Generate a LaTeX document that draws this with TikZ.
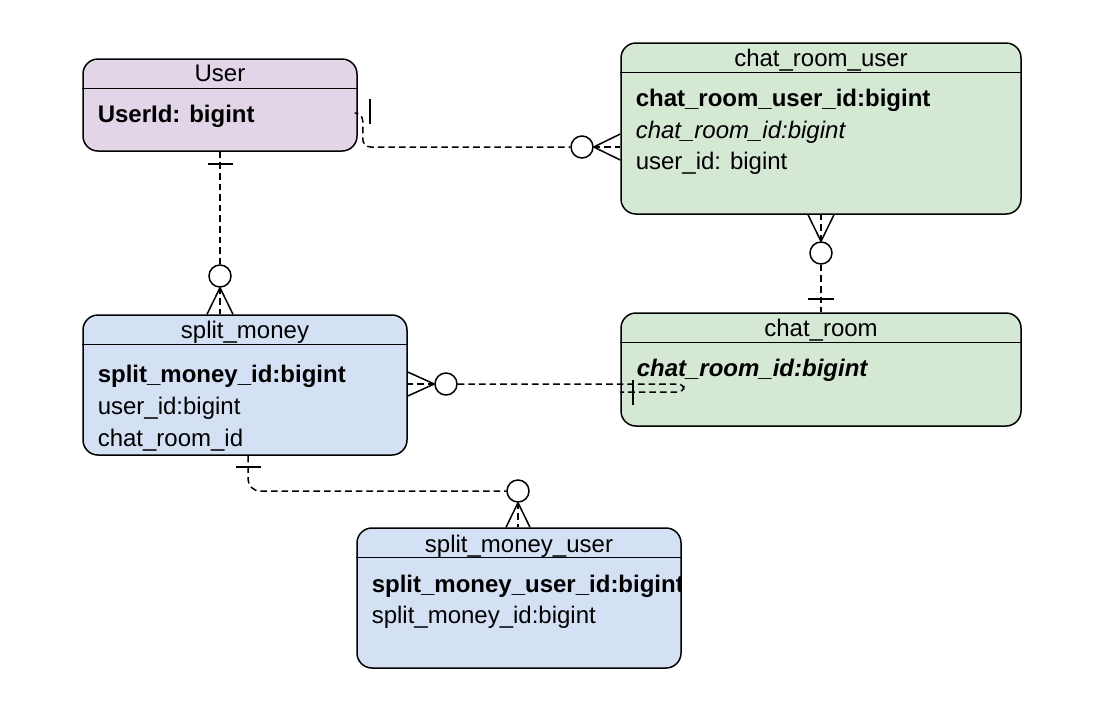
\documentclass[tikz,border=0pt]{standalone}
\usepackage{fontspec}
\setmainfont{Liberation Sans}
\usetikzlibrary{positioning}

\definecolor{userfill}{HTML}{E1D5E7}
\definecolor{chatfill}{HTML}{D5E8D4}
\definecolor{splitfill}{HTML}{D4E1F5}

\begin{document}
\begin{tikzpicture}[x=0.5pt, y=-0.5pt, line width=0.75pt,
    font=\fontsize{12}{14}\selectfont,
    entity/.style={draw, rectangle, rounded corners=7.5pt, inner sep=0},
    title/.style={anchor=base, inner sep=0},
    field/.style={anchor=base west, inner sep=0},
    rel/.style={dash pattern=on 3.3pt off 2pt},
    zero/.style={draw, circle, fill=white, minimum size=11pt, inner sep=0}]
    \useasboundingbox (0,0) rectangle (1104,708);

    % entities
    \node[entity, fill=userfill, minimum width=137pt, minimum height=46pt] (user) at (220,105) {};
    \node[entity, fill=chatfill, minimum width=200pt, minimum height=85.5pt] (chat_room_user) at (821,128.5) {};
    \node[entity, fill=chatfill, minimum width=200pt, minimum height=56.5pt] (chat_room) at (821,369.5) {};
    \node[entity, fill=splitfill, minimum width=162pt, minimum height=70pt] (split_money) at (245,385) {};
    \node[entity, fill=splitfill, minimum width=162pt, minimum height=70pt] (split_money_user) at (519,598) {};

    \foreach \e in {user, chat_room_user, chat_room, split_money, split_money_user}
        \draw ([yshift=-15pt]\e.north west) -- ([yshift=-15pt]\e.north east);

    % titles and fields
    \node[title] (user_t) at (220,81) {User};
    \node[field] (user_1) at (97,122) {\textbf{UserId: bigint}};

    \node[title] (chat_room_user_t) at (821,66) {chat\_room\_user};
    \node[field] (chat_room_user_1) at (635,106) {\textbf{chat\_room\_user\_id:bigint}};
    \node[field] (chat_room_user_2) at (635,138) {\textit{chat\_room\_id:bigint}};
    \node[field] (chat_room_user_3) at (635,169) {user\_id: bigint};

    \node[title] (chat_room_t) at (821,336) {chat\_room};
    \node[field] (chat_room_1) at (636,376) {\textbf{\textit{chat\_room\_id:bigint}}};

    \node[title] (split_money_t) at (245,338) {split\_money};
    \node[field] (split_money_1) at (97,382) {\textbf{split\_money\_id:bigint}};
    \node[field] (split_money_2) at (97,414) {user\_id:bigint};
    \node[field] (split_money_3) at (97,446) {chat\_room\_id};

    \node[title] (split_money_user_t) at (519,552) {split\_money\_user};
    \begin{scope}
        \clip (357,528) rectangle (681,668);
        \node[field] (split_money_user_1) at (371,592) {\textbf{split\_money\_user\_id:bigint}};
    \end{scope}
    \node[field] (split_money_user_2) at (371,623) {split\_money\_id:bigint};

    % User -- chat_room_user
    \node[zero] (c1) at (582,147) {};
    \coordinate (f1) at (chat_room_user.west |- c1);
    \draw[rel, rounded corners=4pt] ([yshift=-4pt]user.east) -- ++(5,0) |- (c1.west);
    \draw (370,99) -- (370,124);
    \draw (c1.east) -- ([yshift=6.5pt]f1)
          (c1.east) -- ([yshift=-6.5pt]f1);
    \draw[rel] (c1.east) -- (f1);

    % User -- split_money
    \node[zero] (c2) at (220,276) {};
    \coordinate (f2) at (split_money.north -| c2);
    \draw[rel] (user.south) -- (c2.north);
    \draw (208,164) -- (233,164);
    \draw (c2.south) -- ([xshift=-6.5pt]f2)
          (c2.south) -- ([xshift=6.5pt]f2);
    \draw[rel] (c2.south) -- (f2);

    % chat_room_user -- chat_room
    \node[zero] (c3) at (821,253) {};
    \draw (c3.north) -- ([xshift=-6.5pt]chat_room_user.south)
          (c3.north) -- ([xshift=6.5pt]chat_room_user.south);
    \draw[rel] (c3.north) -- (chat_room_user.south);
    \draw[rel] (c3.south) -- (chat_room.north);
    \draw (808,299) -- (834,299);

    % split_money -- chat_room
    \node[zero] (c4) at (446,384) {};
    \coordinate (f4) at (split_money.east |- c4);
    \coordinate (t4) at ([yshift=-11.25pt]chat_room.west);
    \draw (c4.west) -- ([yshift=6pt]f4)
          (c4.west) -- ([yshift=-6pt]f4);
    \draw[rel] (c4.west) -- (f4);
    \draw[rel, rounded corners=3pt] (c4.east) -- (684,384) |- (t4);
    \draw (633,380) -- (633,405);

    % split_money -- split_money_user
    \node[zero] (c5) at (518,491) {};
    \coordinate (f5) at (split_money_user.north -| c5);
    \draw[rel, rounded corners=6pt] ([xshift=1.5pt]split_money.south) |- (c5.west);
    \draw (236,467) -- (261,467);
    \draw (c5.south) -- ([xshift=-6pt]f5)
          (c5.south) -- ([xshift=6pt]f5);
    \draw[rel] (c5.south) -- (f5);
\end{tikzpicture}
\end{document}
